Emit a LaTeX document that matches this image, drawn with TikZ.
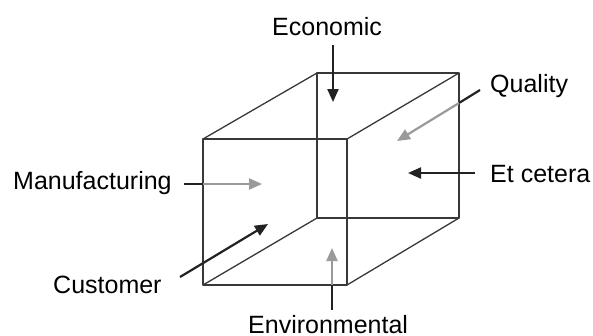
\documentclass[tikz,border=0pt]{standalone}
\usepackage{fontspec}
\setmainfont{Liberation Sans}
\usetikzlibrary{arrows.meta}
\definecolor{ink}{HTML}{222222}
\definecolor{lightarrow}{HTML}{9A9A9A}
\begin{document}
\begin{tikzpicture}[x=1pt,y=-1pt,
  cubeedge/.style={draw=ink!90, line width=1.3pt, line join=round},
  label/.style={font=\fontsize{25}{30}\selectfont, text=black, inner sep=0pt, anchor=base west},
  darkline/.style={draw=ink, line width=2.2pt},
  darkarrow/.style={draw=ink, line width=2.2pt, -{Triangle[length=13pt,width=11pt]}},
  greyarrow/.style={draw=lightarrow, line width=2.2pt, -{Triangle[length=13pt,width=11pt]}}]
\useasboundingbox (0,0) rectangle (593,335);
% cube corners
\coordinate (f1) at (203,139); \coordinate (f2) at (347,139);
\coordinate (f3) at (347,285); \coordinate (f4) at (203,285);
\coordinate (b1) at (317,73);  \coordinate (b2) at (459,73);
\coordinate (b3) at (459,218); \coordinate (b4) at (317,218);
\draw[cubeedge] (f1) -- (f2) -- (f3) -- (f4) -- cycle;
\draw[cubeedge] (b1) -- (b2) -- (b3) -- (b4) -- cycle;
\draw[cubeedge] (f1) -- (b1) (f2) -- (b2) (f3) -- (b3) (f4) -- (b4);
% labels
\node[label] (econ) at (272,35) {Economic};
\node[label] (qual) at (490,92) {Quality};
\node[label] (etc) at (490,182) {Et cetera};
\node[label] (manu) at (13,189) {Manufacturing};
\node[label] (cust) at (53,293) {Customer};
\node[label] (env) at (248,333) {Environmental};
% arrow points
\coordinate (econT) at (333,45);  \coordinate (econH) at (333,102);
\coordinate (qualT) at (480,90);  \coordinate (qualM) at (459,103); \coordinate (qualH) at (397,141);
\coordinate (etcT) at (475,173);  \coordinate (etcH) at (408,173);
\coordinate (manuT) at (184,184); \coordinate (manuM) at (203,184); \coordinate (manuH) at (262,184);
\coordinate (custT) at (180,277); \coordinate (custH) at (268,224);
\coordinate (envT) at (332,310);  \coordinate (envM) at (332,285); \coordinate (envH) at (332,248);
% arrows
\draw[darkarrow] (econT) -- (econH);
\draw[darkline] (qualT) -- (qualM);
\draw[greyarrow] (qualM) -- (qualH);
\draw[darkarrow] (etcT) -- (etcH);
\draw[darkline] (manuT) -- (manuM);
\draw[greyarrow] (manuM) -- (manuH);
\draw[darkarrow] (custT) -- (custH);
\draw[darkline] (envT) -- (envM);
\draw[greyarrow] (envM) -- (envH);
\end{tikzpicture}
\end{document}
